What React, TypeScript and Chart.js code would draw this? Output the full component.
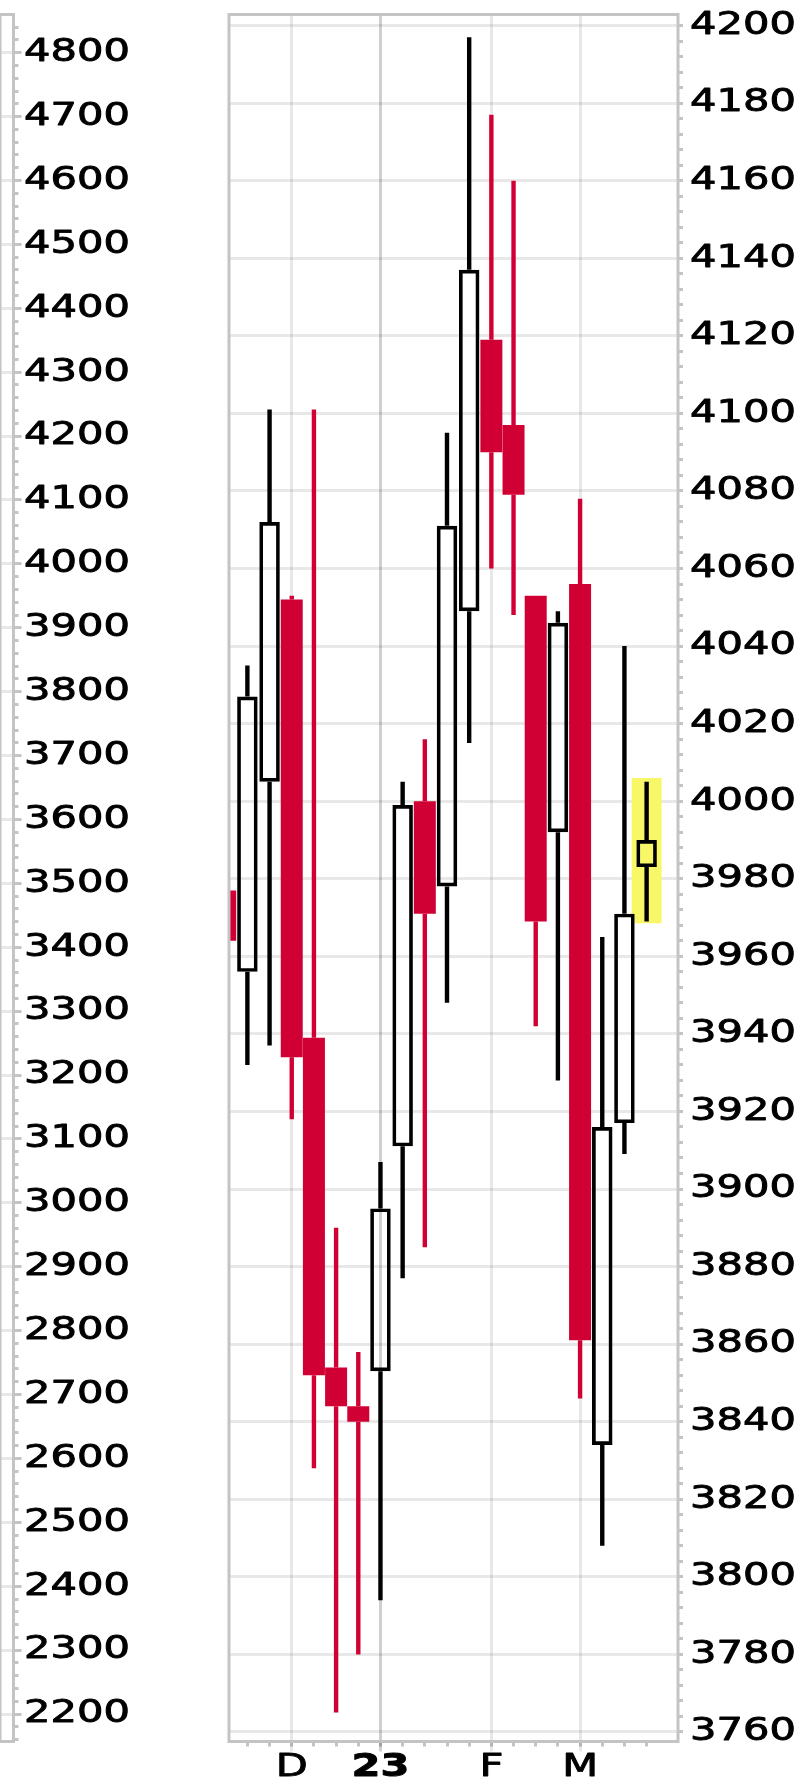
import React, { useEffect, useRef } from 'react';
import { Chart, registerables } from 'chart.js';

Chart.register(...registerables);

// ---- Weekly candles (index 0 is the week cut off at the left edge) ----
const opens = [3977, 3956, 4005, 4052, 3939, 3854, 3844, 3853, 3911, 4000, 3978, 4049, 4119, 4097, 4053, 3992, 4056, 3834, 3917, 3983];
const highs = [3977, 4035, 4101, 4053, 4101, 3890, 3858, 3907, 4005, 4016, 4095, 4197, 4177, 4160, 4053, 4049, 4078, 3965, 4040, 4005];
const lows = [3964, 3932, 3937, 3918, 3828, 3765, 3780, 3794, 3877, 3885, 3948, 4015, 4060, 4048, 3942, 3928, 3846, 3808, 3909, 3969];
const closes = [3964, 4027, 4072, 3934, 3852, 3844, 3840, 3895, 3999, 3971, 4071, 4137, 4090, 4079, 3969, 4046, 3861, 3916, 3971, 3990];

// month ticks on the time axis (candle index where each month starts)
const monthTickIndex = [3, 7, 12, 16];
const monthTickLabels = ['D', '23', 'F', 'M'];
const monthTickIsYear = [false, true, false, false];

// right (price) axis labels
const rightTickLabels = [3760, 3780, 3800, 3820, 3840, 3860, 3880, 3900, 3920, 3940, 3960, 3980, 4000, 4020, 4040, 4060, 4080, 4100, 4120, 4140, 4160, 4180, 4200];
// left (neighbouring panel) axis labels
const leftTickLabels = [2200, 2300, 2400, 2500, 2600, 2700, 2800, 2900, 3000, 3100, 3200, 3300, 3400, 3500, 3600, 3700, 3800, 3900, 4000, 4100, 4200, 4300, 4400, 4500, 4600, 4700, 4800];

// highlighted last candle
const highlightIndex = [19];
const highlightRange = [[3968.5, 4006]];

// ---- axis ranges ----
const X_MIN = 0.171;
const X_MAX = 20.415;
const Y_MIN = 3757.55;
const Y_MAX = 4202.84;
const L_MIN = 2157.0;
const L_MAX = 4859.8;

// ---- styles ----
const FONT_FAMILY = 'DejaVu Sans';
const FONT_SIZE = 32;
const TEXT_STRETCH = 1.3;
const TEXT_WEIGHT = 0.9;
const RED = '#d10034';
const FRAME_GRAY = '#c4c4c4';
const GRID = 'rgba(0,0,0,0.09)';
const GRID_YEAR = 'rgba(0,0,0,0.19)';
const HIGHLIGHT = '#f7f768';
const CLEAR = 'rgba(0,0,0,0)';

const W = 808;
const H = 1786;
const LEFT_W = 200;
const MAIN_W = W - LEFT_W;

const stretchTextPlugin = {
  id: 'stretchText',
  beforeDraw(chart: any) {
    const ctx = chart.ctx;
    if (ctx.__stretched) return;
    const origFill = ctx.fillText;
    const origStroke = ctx.strokeText;
    ctx.fillText = function (text: string, x: number, y: number) {
      this.save();
      this.translate(x, y);
      this.scale(TEXT_STRETCH, 1);
      origFill.call(this, text, 0, 0);
      this.lineWidth = TEXT_WEIGHT;
      this.strokeStyle = this.fillStyle;
      this.lineJoin = 'round';
      origStroke.call(this, text, 0, 0);
      this.restore();
    };
    ctx.__stretched = true;
  },
};

const framePlugin = {
  id: 'frame',
  afterDatasetsDraw(chart: any) {
    const { ctx, chartArea: a } = chart;
    ctx.save();
    ctx.strokeStyle = FRAME_GRAY;
    ctx.lineWidth = 3;
    ctx.strokeRect(a.left, a.top, a.right - a.left, a.bottom - a.top);
    ctx.restore();
  },
};

const zeroPad = (s: any) => {
  s.paddingTop = 0;
  s.paddingBottom = 0;
  s.paddingLeft = 0;
  s.paddingRight = 0;
};

function buildLeftConfig(): any {
  const minor: number[] = [];
  for (let v = leftTickLabels[0] - 100; v <= leftTickLabels[leftTickLabels.length - 1] + 100; v += 20) {
    if (v >= L_MIN && v <= L_MAX) minor.push(v);
  }
  return {
    type: 'line',
    data: { datasets: [] },
    options: {
      animation: false,
      responsive: false,
      devicePixelRatio: 1,
      events: [],
      layout: { padding: { left: 0, top: 14.5, right: 0, bottom: 44.5 } },
      plugins: { legend: { display: false }, tooltip: { enabled: false } },
      scales: {
        x: { type: 'linear', display: false, min: 0, max: 1 },
        yMinor: {
          type: 'linear',
          position: 'right',
          min: L_MIN,
          max: L_MAX,
          afterBuildTicks: (s: any) => { s.ticks = minor.map((v) => ({ value: v })); },
          afterFit: (s: any) => { s.width = 0; zeroPad(s); },
          ticks: { display: false, autoSkip: false },
          grid: { drawOnChartArea: false, tickLength: 5, tickWidth: 3, tickColor: FRAME_GRAY },
          border: { display: false },
        },
        yL: {
          type: 'linear',
          position: 'right',
          min: L_MIN,
          max: L_MAX,
          afterBuildTicks: (s: any) => { s.ticks = leftTickLabels.map((v) => ({ value: v })); },
          afterFit: (s: any) => { s.width = LEFT_W - 13.5; zeroPad(s); },
          ticks: {
            autoSkip: false,
            padding: 2.5,
            color: '#000',
            font: { family: FONT_FAMILY, size: FONT_SIZE, lineHeight: 1 },
            callback: (v: any) => String(v),
          },
          grid: { color: GRID, lineWidth: 3, tickLength: 8, tickWidth: 3, tickColor: FRAME_GRAY },
          border: { display: false },
        },
      },
    },
    plugins: [stretchTextPlugin, framePlugin],
  };
}

function buildMainConfig(): any {
  const idx = opens.map((_, i) => i);
  const isUp = (i: number) => closes[i] >= opens[i];
  const wickColors = idx.map((i) => (isUp(i) ? '#000' : RED));
  const upperWicks = idx.map((i) => ({ x: i, y: [Math.max(opens[i], closes[i]), highs[i]] }));
  const lowerWicks = idx.map((i) => ({ x: i, y: [lows[i], Math.min(opens[i], closes[i])] }));
  const downBodies = idx.filter((i) => !isUp(i)).map((i) => ({ x: i, y: [opens[i], closes[i]] }));
  const upBodies = idx.filter((i) => isUp(i)).map((i) => ({ x: i, y: [opens[i], closes[i]] }));
  const highlightBars = highlightIndex.map((x, k) => ({ x, y: highlightRange[k] }));

  const weekTicks = idx.filter((i) => i >= X_MIN && i <= X_MAX);
  const rightMinor: number[] = [];
  for (let k = 0; k < rightTickLabels.length - 1; k++) {
    for (let s = 0; s < 5; s++) rightMinor.push(rightTickLabels[k] + s * 4);
  }
  rightMinor.push(rightTickLabels[rightTickLabels.length - 1]);

  const monthPos = (v: any) => monthTickIndex.indexOf(Number(v));
  const gridColorX = (c: any) => {
    const k = c.tick ? monthPos(c.tick.value) : -1;
    return k >= 0 && monthTickIsYear[k] ? GRID_YEAR : GRID;
  };

  const common = { grouped: false, clip: 0, inflateAmount: 0, xAxisID: 'x', yAxisID: 'y' };

  return {
    type: 'bar',
    data: {
      datasets: [
        { ...common, label: 'highlight', data: highlightBars, backgroundColor: HIGHLIGHT, barThickness: 30, order: 5 },
        { ...common, label: 'upper wick', data: upperWicks, backgroundColor: wickColors, barThickness: 4.4, order: 4 },
        { ...common, label: 'lower wick', data: lowerWicks, backgroundColor: wickColors, barThickness: 4.4, order: 4 },
        { ...common, label: 'down', data: downBodies, backgroundColor: RED, barThickness: 22, order: 2 },
        {
          ...common,
          label: 'up',
          data: upBodies,
          backgroundColor: CLEAR,
          borderColor: '#000',
          borderWidth: 3.7,
          borderSkipped: false,
          barThickness: 20.5,
          order: 1,
        },
      ],
    },
    options: {
      animation: false,
      responsive: false,
      devicePixelRatio: 1,
      events: [],
      layout: { padding: { left: 29, top: 14.5, right: 0, bottom: 0 } },
      plugins: { legend: { display: false }, tooltip: { enabled: false } },
      scales: {
        xMinor: {
          type: 'linear',
          position: 'bottom',
          min: X_MIN,
          max: X_MAX,
          offset: false,
          afterBuildTicks: (s: any) => { s.ticks = weekTicks.map((v) => ({ value: v })); },
          afterFit: (s: any) => { s.height = 0; zeroPad(s); },
          ticks: { display: false, autoSkip: false },
          grid: { offset: false, drawOnChartArea: false, tickLength: 5, tickWidth: 3, tickColor: FRAME_GRAY },
          border: { display: false },
        },
        x: {
          type: 'linear',
          position: 'bottom',
          min: X_MIN,
          max: X_MAX,
          offset: false,
          afterBuildTicks: (s: any) => { s.ticks = monthTickIndex.map((v) => ({ value: v })); },
          afterFit: (s: any) => { s.height = H - 1741.5; zeroPad(s); },
          ticks: {
            autoSkip: false,
            maxRotation: 0,
            minRotation: 0,
            padding: 0.5,
            color: '#000',
            font: (c: any) => {
              const k = c.tick ? monthPos(c.tick.value) : -1;
              return { family: FONT_FAMILY, size: FONT_SIZE, lineHeight: 1, weight: k >= 0 && monthTickIsYear[k] ? 'bold' : 'normal' };
            },
            callback: (v: any) => {
              const k = monthPos(v);
              return k >= 0 ? monthTickLabels[k] : '';
            },
          },
          grid: { offset: false, color: gridColorX, lineWidth: 3, tickLength: 10, tickWidth: 3, tickColor: gridColorX },
          border: { display: false },
        },
        y: {
          type: 'linear',
          position: 'right',
          min: Y_MIN,
          max: Y_MAX,
          afterBuildTicks: (s: any) => { s.ticks = rightMinor.map((v) => ({ value: v })); },
          afterFit: (s: any) => { s.width = MAIN_W - 478; zeroPad(s); },
          ticks: {
            autoSkip: false,
            padding: 7,
            color: '#000',
            font: { family: FONT_FAMILY, size: FONT_SIZE, lineHeight: 1 },
            callback: (v: any) => (rightTickLabels.includes(Number(v)) ? String(v) : ''),
          },
          grid: {
            color: (c: any) => (c.tick && rightTickLabels.includes(c.tick.value) ? GRID : CLEAR),
            lineWidth: 3,
            tickLength: 5,
            tickWidth: 3,
            tickColor: FRAME_GRAY,
          },
          border: { display: false },
        },
      },
    },
    plugins: [stretchTextPlugin, framePlugin],
  };
}

export default function App() {
  const leftRef = useRef<HTMLCanvasElement>(null);
  const mainRef = useRef<HTMLCanvasElement>(null);

  useEffect(() => {
    const left = new Chart(leftRef.current as HTMLCanvasElement, buildLeftConfig());
    const main = new Chart(mainRef.current as HTMLCanvasElement, buildMainConfig());
    return () => {
      left.destroy();
      main.destroy();
    };
  }, []);

  return (
    <div style={{ position: 'absolute', left: 0, top: 0, width: W, height: H, background: '#fff', overflow: 'hidden' }}>
      <canvas
        ref={leftRef}
        width={LEFT_W}
        height={H}
        style={{ position: 'absolute', left: 0, top: 0, width: LEFT_W, height: H }}
      />
      <canvas
        ref={mainRef}
        width={MAIN_W}
        height={H}
        style={{ position: 'absolute', left: LEFT_W, top: 0, width: MAIN_W, height: H }}
      />
    </div>
  );
}
